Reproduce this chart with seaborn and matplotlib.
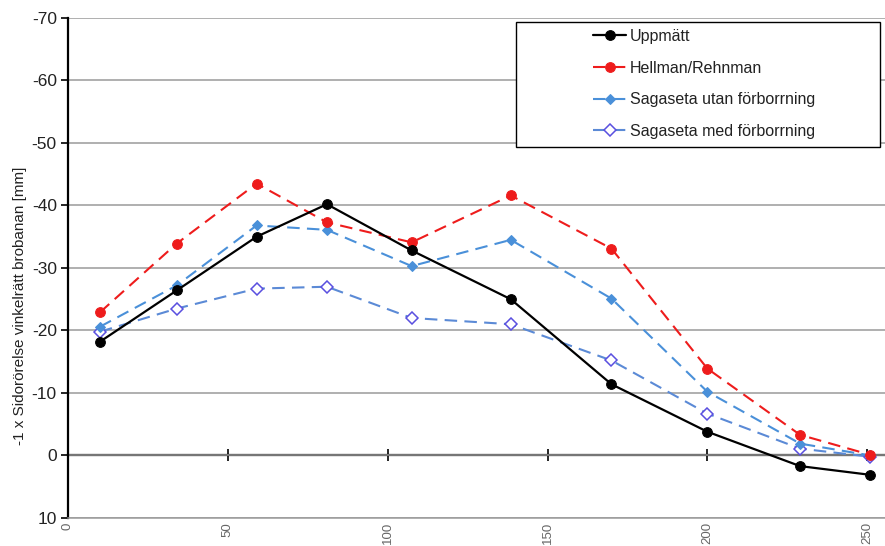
import numpy as np
import pandas as pd
import matplotlib
matplotlib.use("Agg")
import matplotlib.pyplot as plt
from matplotlib.patches import Rectangle
import seaborn as sns

# Data
x_pos = [10, 34, 59, 81, 107.5, 138.5, 170, 200, 229, 251]
uppmatt = [-18.2, -26.4, -35.0, -40.2, -32.8, -25.0, -11.4, -3.8, 1.7, 3.1]
hellman = [-22.9, -33.9, -43.5, -37.3, -34.1, -41.6, -33.1, -13.9, -3.3, -0.1]
sag_utan = [-20.6, -27.2, -36.8, -36.1, -30.3, -34.5, -25.1, -10.2, -1.9, 0.0]
sag_med = [-19.8, -23.5, -26.7, -27.0, -22.0, -21.0, -15.2, -6.7, -1.1, 0.2]

y_ticks = [-70, -60, -50, -40, -30, -20, -10, 0, 10]
x_ticks = [0, 50, 100, 150, 200, 250]

sns.set_style("white")
plt.rcParams['font.family'] = ['Liberation Sans', 'DejaVu Sans']

fig = plt.figure(figsize=(8.85, 5.46), dpi=100)
ax = fig.add_axes([0.0768, 0.0513, 0.923, 0.9158])

dash = (0, (6, 3.5))
sns.lineplot(x=x_pos, y=uppmatt, ax=ax, color='black', marker='o', markersize=7,
             markeredgecolor='black', linewidth=1.6, label='Uppmätt', zorder=5)
sns.lineplot(x=x_pos, y=hellman, ax=ax, color='#ee1c1c', marker='o', markersize=7,
             markeredgecolor='#ee1c1c', linewidth=1.5, linestyle=dash,
             label='Hellman/Rehnman', zorder=4)
sns.lineplot(x=x_pos, y=sag_utan, ax=ax, color='#4a90d9', marker='D', markersize=5,
             markeredgecolor='#4a90d9', linewidth=1.5, linestyle=dash,
             label='Sagaseta utan förborrning', zorder=3)
sns.lineplot(x=x_pos, y=sag_med, ax=ax, color='#5b8ad6', marker='D', markersize=6,
             markerfacecolor='white', markeredgecolor='#5a4fe0', markeredgewidth=1.1,
             linewidth=1.5, linestyle=dash,
             label='Sagaseta med förborrning', zorder=2)

ax.set_xlim(0, 255.5)
ax.set_ylim(10, -70)
ax.set_yticks(y_ticks)
ax.set_yticklabels([str(v) for v in y_ticks], fontsize=12.5, color='#222222')
ax.set_xticks(x_ticks)
ax.set_xticklabels([str(v) for v in x_ticks], fontsize=9.5, rotation=90, color='#666666')
ax.tick_params(axis='x', length=0, pad=3)
ax.tick_params(axis='y', direction='out', length=5, width=1.2, color='black', pad=3, left=True)
ax.yaxis.grid(True, color='#9a9a9a', linewidth=1.1)
ax.set_axisbelow(True)
ax.set_xlabel('')
ax.set_ylabel('-1 x Sidorörelse vinkelrätt brobanan [mm]', fontsize=11,
              color='#222222')
ax.yaxis.set_label_coords(-0.0502, 0.424)

for s in ['top', 'right']:
    ax.spines[s].set_visible(False)
ax.spines['left'].set_color('black')
ax.spines['left'].set_linewidth(1.6)
ax.spines['bottom'].set_color('#9a9a9a')
ax.spines['bottom'].set_linewidth(1.1)

# x axis crossing at zero with its tick marks
zero_frac = (0 - 10) / (-70 - 10)
sec = ax.secondary_xaxis(zero_frac)
sec.set_xticks(x_ticks)
sec.tick_params(axis='x', direction='inout', length=8, width=1.2, color='black', labelbottom=False)
sec.spines['bottom'].set_color('black')
sec.spines['bottom'].set_linewidth(1.6)

# Excel-style legend: wide box, entries indented
ax.add_patch(Rectangle((0.5483, 0.742), 0.4456, 0.25, transform=ax.transAxes,
                       facecolor='white', edgecolor='black', linewidth=1.0,
                       zorder=6, clip_on=False))
leg = ax.legend(loc='upper left', bbox_to_anchor=(0.6426, 0.978), fontsize=11.5,
                frameon=False, handlelength=2.1, labelspacing=1.04,
                borderpad=0, borderaxespad=0, handletextpad=0.2)
leg.set_zorder(7)
for t in leg.get_texts():
    t.set_color('#222222')

fig.savefig('out.png', dpi=100)
